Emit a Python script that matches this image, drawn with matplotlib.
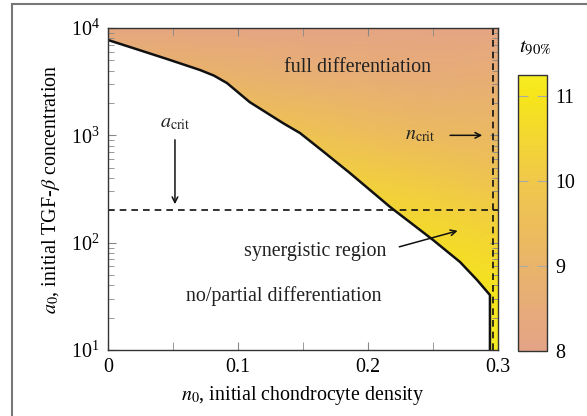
import numpy as np
import matplotlib
matplotlib.use('Agg')
import matplotlib.pyplot as plt
from matplotlib.colors import LinearSegmentedColormap
from matplotlib.lines import Line2D
from matplotlib.ticker import LogLocator, NullFormatter

plt.rcParams['font.family'] = ['Liberation Serif', 'DejaVu Serif']
plt.rcParams['mathtext.fontset'] = 'stix'

# grid of t90% values
n_grid = [0.0, 0.05, 0.1, 0.15, 0.2, 0.25, 0.3]
loga_grid = [1.0, 1.5, 2.0, 2.5, 3.0, 3.5, 4.0]
t90 = [
    [11.2, 11.2, 11.2, 11.2, 11.2, 11.2, 11.2],
    [11.05, 11.05, 11.05, 11.05, 11.05, 11.0, 10.95],
    [10.8, 10.8, 10.8, 10.8, 10.8, 10.7, 10.5],
    [10.3, 10.3, 10.3, 10.3, 10.3, 10.15, 9.9],
    [9.8, 9.8, 9.8, 9.75, 9.5, 9.3, 9.2],
    [9.2, 9.1, 9.0, 8.8, 8.7, 8.6, 8.7],
    [8.2, 8.2, 8.15, 8.1, 8.1, 8.1, 8.15],
]

# boundary between partial and full differentiation
bnd_n = [0.0, 0.0192, 0.0454, 0.0708, 0.0815, 0.0915, 0.109, 0.1346, 0.1477,
         0.166, 0.186, 0.217, 0.25, 0.2708, 0.2838, 0.2938, 0.2938]
bnd_a = [7730, 6510, 5140, 4060, 3600, 3070, 2040, 1300, 1050,
         700, 446, 215, 106, 66, 45, 32.5, 10]

a_crit = 200
n_crit = 0.296

cmap = LinearSegmentedColormap.from_list('t90', [
    (0.0, '#e4a387'), (1 / 3.25, '#e9b46a'), (2 / 3.25, '#f0c84a'),
    (3 / 3.25, '#f6e51a'), (1.0, '#f6ec22')])

fs = 14.4

fig = plt.figure(figsize=(5.87, 4.16), dpi=100)
ax = fig.add_axes([0.184, 0.1587, 0.6644, 0.774])
cax = fig.add_axes([0.8825, 0.156, 0.0494, 0.6635])
ax.set_axisbelow(False)

N, A = np.meshgrid(n_grid, 10 ** np.array(loga_grid))
mesh = ax.pcolormesh(N, A, np.array(t90), cmap=cmap, vmin=8, vmax=11.25,
                     shading='gouraud', rasterized=True)
ax.set_yscale('log')
ax.fill_between(bnd_n, 10, bnd_a, color='white', zorder=2)
ax.plot(bnd_n, bnd_a, color='#111111', lw=1.8, zorder=3)

ax.axhline(a_crit, color='#111111', lw=1.2, ls=(0, (4, 3)), zorder=4)
ax.axvline(n_crit, color='#111111', lw=1.2, ls=(0, (4, 3)), zorder=4)

ax.set_xlim(0, 0.3)
ax.set_ylim(10, 1e4)
ax.set_xticks([0, 0.1, 0.2, 0.3])
ax.set_xticklabels(['0', '0.1', '0.2', '0.3'])
ax.set_xticks([0.05, 0.15, 0.25], minor=True)
ax.yaxis.set_minor_locator(LogLocator(base=10, subs=np.arange(2, 10)))
ax.yaxis.set_minor_formatter(NullFormatter())
ax.tick_params(which='both', direction='in', top=True, right=True,
               color='#888888', labelsize=fs, pad=6)
ax.tick_params(which='major', length=6)
ax.tick_params(which='minor', length=4)
ax.tick_params(axis='x', which='minor', length=6)
for s in ax.spines.values():
    s.set_color('#333333')
    s.set_linewidth(1.0)
    s.set_zorder(6)

ax.set_xlabel('$n_0$, initial chondrocyte density', fontsize=fs, labelpad=5)
ax.set_ylabel(r'$a_0$, initial TGF-$\beta$ concentration', fontsize=fs,
              labelpad=6)

txt = dict(fontsize=fs, ha='center', va='center', color='#222222', zorder=5)
ax.text(0.192, 4240, 'full differentiation', **txt)
ax.text(0.135, 32, 'no/partial differentiation', **txt)
ax.text(0.159, 82, 'synergistic region', **txt)
ax.text(0.0515, 1300, r'$a_{\rm crit}$', **txt)
ax.text(0.24, 1007, r'$n_{\rm crit}$', **txt)

arr = dict(arrowstyle='->', color='#111111', lw=1.1)
ax.annotate('', xy=(0.0515, 215), xytext=(0.0515, 964), arrowprops=arr,
            zorder=5)
ax.annotate('', xy=(0.29, 1000), xytext=(0.261, 1000), arrowprops=arr,
            zorder=5)
ax.annotate('', xy=(0.271, 131), xytext=(0.222, 90), arrowprops=arr,
            zorder=5)

cb = fig.colorbar(mesh, cax=cax, ticks=[8, 9, 10, 11])
cb.outline.set_edgecolor('#333333')
cb.outline.set_linewidth(1.0)
cax.tick_params(direction='in', left=True, right=True, length=7,
                color='#aaaaaa', labelsize=fs, pad=6)
fig.text(0.912, 0.887, r'$t_{90\%}$', fontsize=15, ha='center', va='center')

# frame around the figure (clipped at right and bottom)
fig.add_artist(Line2D([12 / 587, 1.0], [1 - 4 / 416, 1 - 4 / 416],
                      transform=fig.transFigure, color='#777777', lw=1.5))
fig.add_artist(Line2D([12 / 587, 12 / 587], [0.0, 1 - 4 / 416],
                      transform=fig.transFigure, color='#777777', lw=1.5))

fig.savefig('out.png', dpi=100)
